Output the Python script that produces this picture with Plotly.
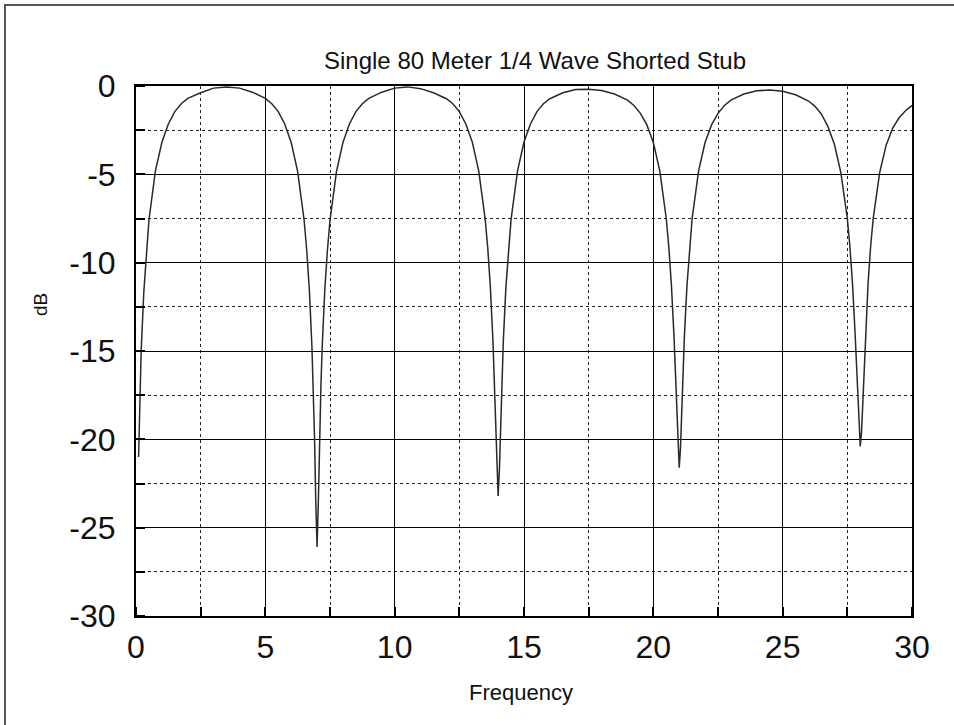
import plotly.graph_objects as go

freq_mhz = [
    0.1, 0.15, 0.2, 0.3, 0.4, 0.5, 0.75, 1.0, 1.25, 1.5, 1.75, 2.0, 2.5, 3.0, 3.5,
    4.0, 4.5, 5.0, 5.25, 5.5, 5.75, 6.0, 6.25, 6.5, 6.6, 6.7, 6.8, 6.85, 6.9, 6.95,
    7.0, 7.05, 7.1, 7.15, 7.2, 7.3, 7.4, 7.5, 7.75, 8.0, 8.25, 8.5, 8.75, 9.0, 9.5,
    10.0, 10.5, 11.0, 11.5, 12.0, 12.25, 12.5, 12.75, 13.0, 13.25, 13.5, 13.6, 13.7,
    13.8, 13.85, 13.9, 13.95, 14.0, 14.05, 14.1, 14.15, 14.2, 14.3, 14.4, 14.5, 14.75,
    15.0, 15.25, 15.5, 15.75, 16.0, 16.5, 17.0, 17.5, 18.0, 18.5, 19.0, 19.25, 19.5,
    19.75, 20.0, 20.25, 20.5, 20.6, 20.7, 20.8, 20.85, 20.9, 20.95, 21.0, 21.05, 21.1,
    21.15, 21.2, 21.3, 21.4, 21.5, 21.75, 22.0, 22.25, 22.5, 22.75, 23.0, 23.5, 24.0,
    24.5, 25.0, 25.5, 26.0, 26.25, 26.5, 26.75, 27.0, 27.25, 27.5, 27.6, 27.7, 27.8,
    27.85, 27.9, 27.95, 28.0, 28.05, 28.1, 28.15, 28.2, 28.3, 28.4, 28.5, 28.75, 29.0,
    29.25, 29.5, 29.75, 30.0,
]
gain_db = [
    -21.0, -17.5, -15.0, -11.7, -9.3, -7.6, -4.8, -3.2, -2.15, -1.45, -1.0, -0.7, -0.38, -0.12, -0.05,
    -0.12, -0.35, -0.7, -1.0, -1.45, -2.15, -3.2, -4.85, -7.6, -9.3, -11.5, -14.7, -16.9, -19.8, -23.5,
    -26.1, -23.5, -19.8, -16.9, -14.7, -11.5, -9.3, -7.6, -4.85, -3.2, -2.15, -1.45, -1.0, -0.7, -0.35,
    -0.12, -0.05, -0.15, -0.38, -0.72, -1.0, -1.45, -2.15, -3.17, -4.8, -7.55, -9.2, -11.4,
    -14.45, -16.5, -19.0, -21.7, -23.2, -21.7, -19.0, -16.5, -14.45, -11.4, -9.2, -7.55, -4.8,
    -3.17, -2.15, -1.45, -1.0, -0.72, -0.38, -0.2, -0.19, -0.25, -0.45, -0.8, -1.1, -1.55,
    -2.2, -3.2, -4.8, -7.5, -9.15, -11.3, -14.2, -16.1, -18.3, -20.5, -21.6, -20.5, -18.3,
    -16.1, -14.2, -11.3, -9.15, -7.5, -4.8, -3.2, -2.2, -1.55, -1.1, -0.8, -0.45, -0.27,
    -0.23, -0.3, -0.5, -0.85, -1.15, -1.6, -2.3, -3.3, -4.9, -7.5, -9.1, -11.2, -14.0,
    -15.7, -17.7, -19.55, -20.4, -19.55, -17.7, -15.7, -14.0, -11.2, -9.1, -7.5, -4.9, -3.35,
    -2.4, -1.8, -1.4, -1.1,
]

x_ticks = [0, 5, 10, 15, 20, 25, 30]
y_ticks = [0, -5, -10, -15, -20, -25, -30]

title_text = "Single 80 Meter 1/4 Wave Shorted Stub"
x_title = "Frequency"
y_title = "dB"

W, H = 954, 725
L, R, T, B = 136, 42, 86, 109
pw, ph = W - L - R, H - T - B

def px(xp):
    return (xp - L) / pw

def py(yp):
    return (H - B - yp) / ph

fig = go.Figure()
fig.add_trace(go.Scatter(
    x=freq_mhz, y=gain_db, mode="lines",
    line=dict(color="#2a2a2a", width=1.5),
    showlegend=False, hoverinfo="skip",
))

tick_font = dict(family="Liberation Sans, Arial, sans-serif", size=32, color="#111")
axis_common = dict(
    showline=True, mirror=True, linecolor="black", linewidth=2,
    showgrid=True, gridcolor="black", gridwidth=1.4,
    zeroline=False, ticks="", tickfont=tick_font,
)
minor_common = dict(dtick=2.5, tick0=0, showgrid=True, griddash="dot", gridcolor="#222",
                    gridwidth=1.3, ticks="inside", ticklen=9, tickcolor="black", tickwidth=2)

fig.update_xaxes(
    range=[0, 30], tickvals=x_ticks, ticktext=[str(v) for v in x_ticks],
    minor=minor_common, ticklabelstandoff=2, **axis_common,
)
fig.update_yaxes(
    range=[-30, 0], tickvals=y_ticks, ticktext=[str(v) for v in y_ticks],
    minor=minor_common, ticklabelstandoff=12, **axis_common,
)

fig.update_layout(
    width=W, height=H,
    margin=dict(l=L, r=R, t=T, b=B, pad=0),
    paper_bgcolor="white", plot_bgcolor="white",
    shapes=[dict(type="rect", xref="paper", yref="paper",
                 x0=px(5), x1=px(990), y0=py(760), y1=py(5),
                 line=dict(color="#555", width=2), layer="below")],
    annotations=[
        dict(text=title_text, xref="paper", yref="paper", x=px(535), y=py(61),
             showarrow=False, xanchor="center", yanchor="middle",
             font=dict(family="Liberation Sans, Arial", size=24, color="#111")),
        dict(text=x_title, xref="paper", yref="paper", x=px(521), y=py(692),
             showarrow=False, xanchor="center", yanchor="middle",
             font=dict(family="Liberation Sans, Arial", size=22, color="#111")),
        dict(text=y_title, xref="paper", yref="paper", x=px(40), y=py(305),
             showarrow=False, xanchor="center", yanchor="middle", textangle=-90,
             font=dict(family="Liberation Sans, Arial", size=19, color="#111")),
    ],
)

fig.write_html("out.html")
